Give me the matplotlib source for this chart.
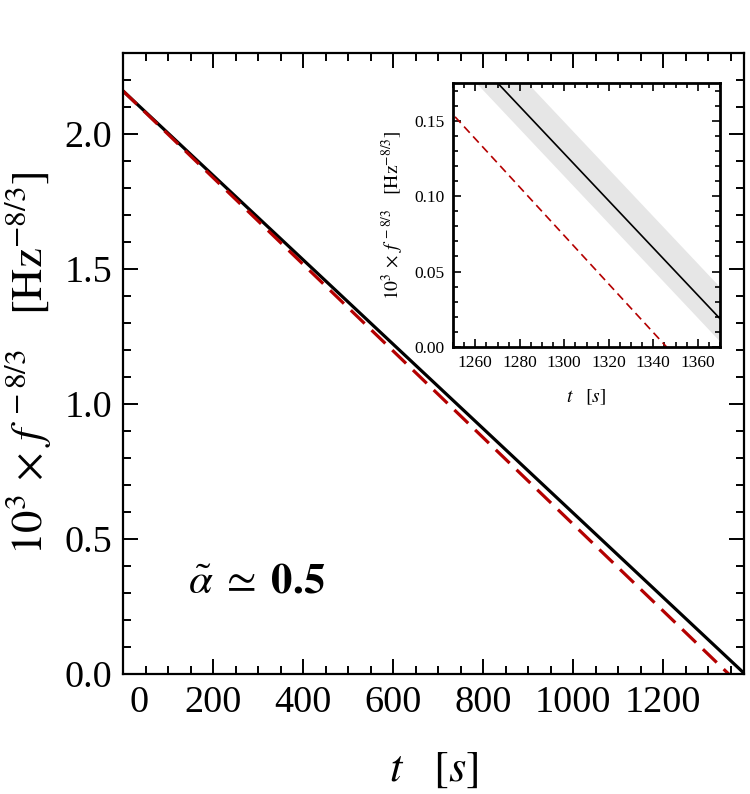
import numpy as np
import matplotlib
matplotlib.use("Agg")
import matplotlib.pyplot as plt
from matplotlib.ticker import MultipleLocator
import matplotlib.transforms as mtransforms

plt.rcParams['font.family'] = ['Liberation Serif', 'DejaVu Serif']
plt.rcParams['mathtext.fontset'] = 'stix'

# data: f^-8/3 (x 10^3) against t, both straight lines
t_black = [0, 1382]
y_black = [2.16, 0.0]
t_red = [0, 1346]
y_red = [2.16, 0.0]
# grey uncertainty band around the black line (inset)
t_band = [1240, 1380]
band_lo = [0.207, -0.012]
band_hi = [0.243, 0.024]

x_ticks_main = [0, 200, 400, 600, 800, 1000, 1200]
y_ticks_main = [0.0, 0.5, 1.0, 1.5, 2.0]
x_ticks_ins = [1260, 1280, 1300, 1320, 1340, 1360]
y_ticks_ins = [0.00, 0.05, 0.10, 0.15]

red = '#b40000'
ylab = r'$10^3\,\times\,f^{\,-8/3}\quad[\mathrm{Hz}^{-8/3}]$'

fig = plt.figure(figsize=(7.5, 7.94), dpi=100)
ax = fig.add_axes([0.164, 0.1511, 0.828, 0.782])

ax.plot(t_black, y_black, color='black', lw=2.3, solid_capstyle='butt')
ax.plot(t_red, y_red, color=red, lw=2.3, dashes=(6, 3))
ax.set_xlim(0, 1380)
ax.set_ylim(0, 2.3)

ax.set_xticks(x_ticks_main)
ax.set_yticks(y_ticks_main)
ax.set_yticklabels([f'{v:.1f}' for v in y_ticks_main])
ax.xaxis.set_minor_locator(MultipleLocator(50))
ax.yaxis.set_minor_locator(MultipleLocator(0.1))
ax.tick_params(which='both', direction='in', top=True, right=True, width=1.4,
               labelsize=27.5, pad=8)
ax.tick_params(which='major', length=11)
ax.tick_params(which='minor', length=5.5)
for s in ax.spines.values():
    s.set_linewidth(1.6)

# the "0" label sits right of the corner
lab0 = ax.get_xticklabels()[0]
lab0.set_transform(lab0.get_transform() + mtransforms.ScaledTranslation(0.16, 0, fig.dpi_scale_trans))

ax.set_xlabel(r'$t\quad[s]$', fontsize=32, labelpad=22)
ax.set_ylabel(ylab, fontsize=32, labelpad=8)

ax.text(297, 0.34, r'$\tilde{\alpha}\;\simeq\;\mathbf{0.5}$', fontsize=31, ha='center', va='center')

# inset zoom near the end
ins = fig.add_axes([0.604, 0.563, 0.356, 0.3325])
ins.fill_between(t_band, band_lo, band_hi, color='#e6e6e6', lw=0)
ins.plot(t_black, y_black, color='black', lw=1.2)
ins.plot(t_red, y_red, color=red, lw=1.2, dashes=(5, 3))
ins.set_xlim(1250, 1370)
ins.set_ylim(0, 0.175)
ins.set_xticks(x_ticks_ins)
ins.set_yticks(y_ticks_ins)
ins.set_yticklabels([f'{v:.2f}' for v in y_ticks_ins])
ins.xaxis.set_minor_locator(MultipleLocator(5))
ins.yaxis.set_minor_locator(MultipleLocator(0.01))
ins.tick_params(which='both', direction='in', top=True, right=True, width=1.2,
                labelsize=12.5, pad=6)
ins.tick_params(which='major', length=6)
ins.tick_params(which='minor', length=3.5)
for s in ins.spines.values():
    s.set_linewidth(2.0)
ins.set_xlabel(r'$t\quad[s]$', fontsize=14, labelpad=12)
ins.set_ylabel(ylab, fontsize=14, labelpad=6)

fig.savefig('out.png', dpi=100)
